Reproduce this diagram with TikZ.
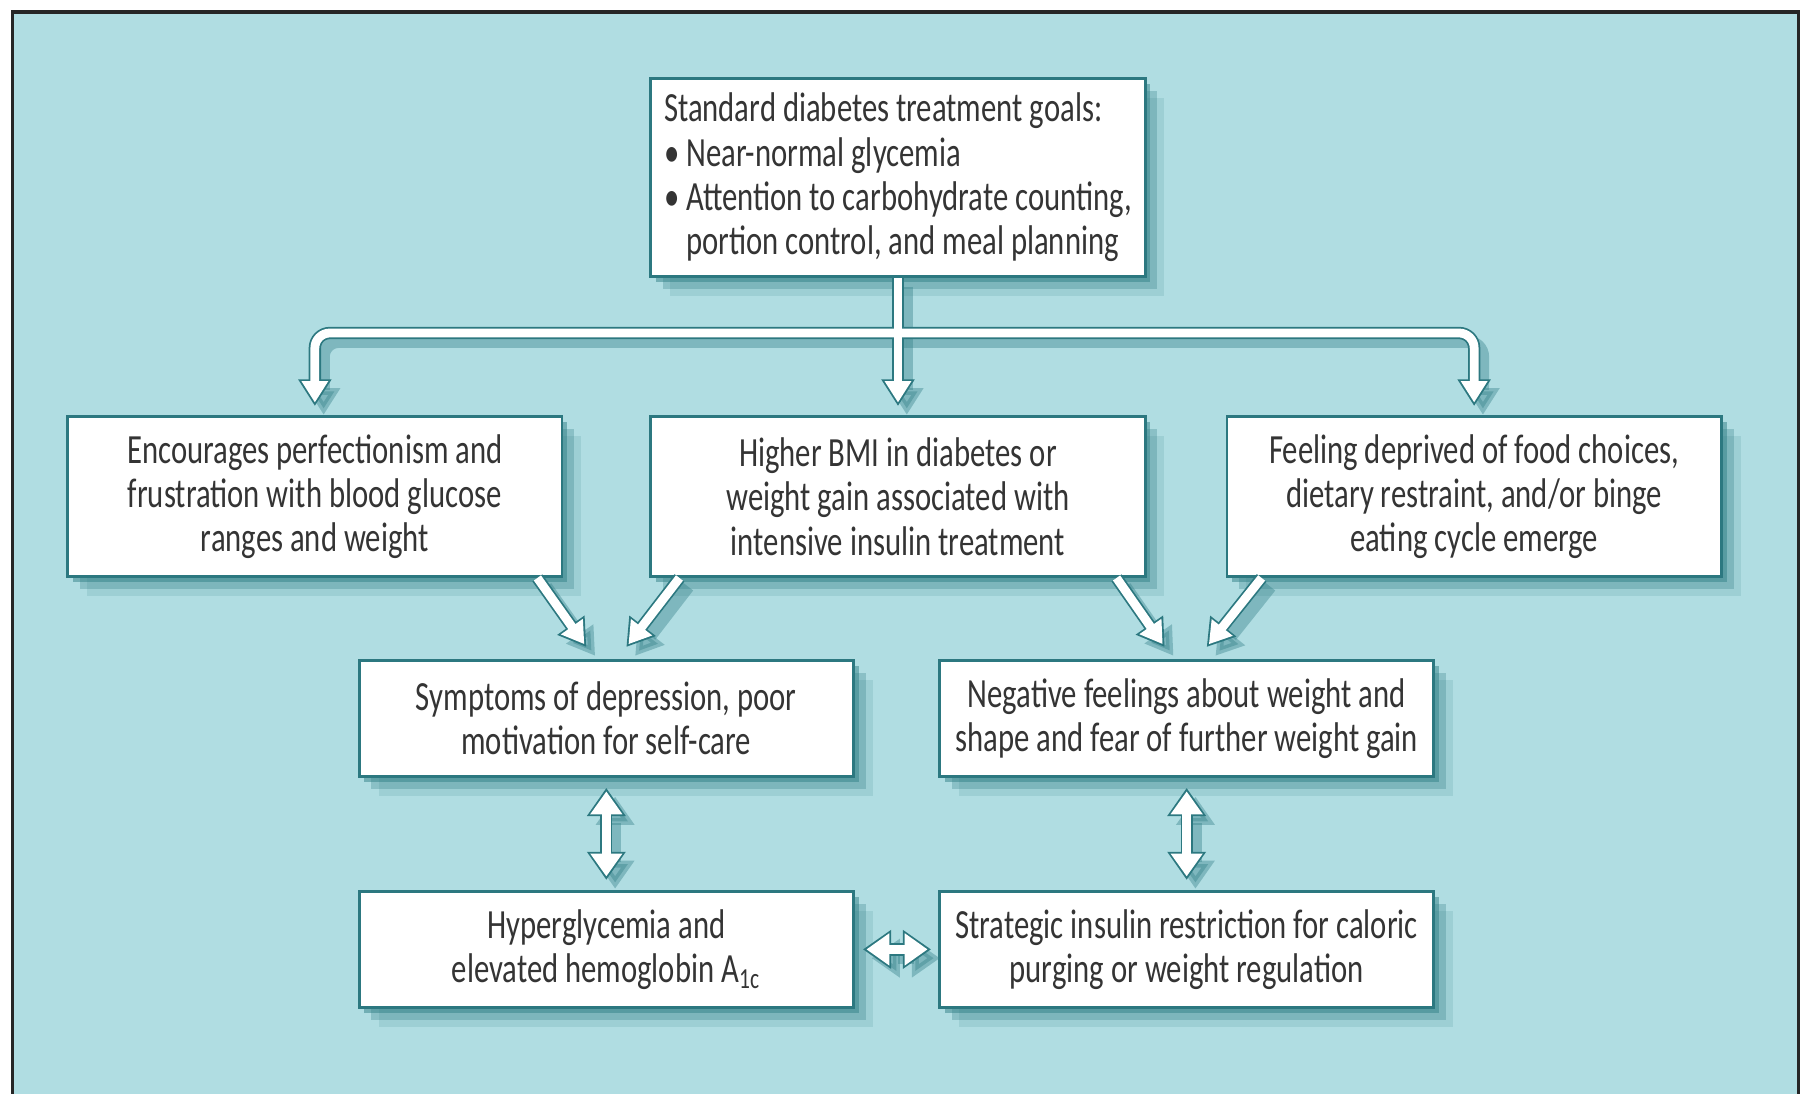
\documentclass[tikz,border=0pt]{standalone}
\usepackage{fontspec}
\setmainfont{Carlito}[FakeStretch=0.74]
\usetikzlibrary{arrows.meta,positioning,shadows}
\definecolor{bgteal}{RGB}{176,221,226}
\definecolor{edgeteal}{RGB}{44,120,128}
\definecolor{shadeteal}{RGB}{52,128,136}
\definecolor{txtgray}{RGB}{52,52,52}

\begin{document}
\begin{tikzpicture}[
  x=0.01cm, y=-0.01cm,
  box/.style={draw=edgeteal, line width=0.8pt, fill=white, text=txtgray,
              minimum width=4.94cm, minimum height=1.16cm,
              font=\fontsize{11.8}{12.6}\selectfont, align=center,
              drop shadow={shadow xshift=1.5pt, shadow yshift=-1.5pt, fill=shadeteal, opacity=.5},
              drop shadow={shadow xshift=3.5pt, shadow yshift=-3.5pt, fill=shadeteal, opacity=.3},
              drop shadow={shadow xshift=5.5pt, shadow yshift=-5.5pt, fill=shadeteal, opacity=.15}},
  wbox/.style={box, minimum height=1.6cm},
  arrout/.style={draw=edgeteal, line width=3.5pt, arrows={-Triangle[width=9pt,length=7.6pt]}},
  arrin/.style={draw=white, line width=2.5pt, arrows={-Triangle[width=7.2pt,length=6.1pt]}, shorten >=1pt},
  arrsh/.style={arrout, draw=shadeteal, opacity=.4, transform canvas={shift={(2.5pt,-2.5pt)}}},
  darrout/.style={draw=edgeteal, line width=3.5pt, arrows={Triangle[width=10.5pt,length=8pt]-Triangle[width=10.5pt,length=8pt]}},
  darrin/.style={draw=white, line width=2.5pt, arrows={Triangle[width=8.7pt,length=6.5pt]-Triangle[width=8.7pt,length=6.5pt]}, shorten >=1pt, shorten <=1pt},
  darrsh/.style={darrout, draw=shadeteal, opacity=.4, transform canvas={shift={(2.5pt,-2.5pt)}}},
]
  \useasboundingbox (0,0) rectangle (1808,1094);
  \fill[bgteal] (12.5,12) rectangle (1798.5,1120);
  \draw[black!85, line width=1pt] (12.5,12) rectangle (1798.5,1120);

  % boxes
  \node[box, minimum height=1.98cm, align=left] (goals) at (898,177.5)
    {Standard diabetes treatment goals:\\
     \textbullet\ Near-normal glycemia\\
     \textbullet\ Attention to carbohydrate counting,\\
     \hphantom{\textbullet\ }portion control, and meal planning};
  \node[wbox, below=1.37cm of goals] (bmi) {Higher BMI in diabetes or\\weight gain associated with\\intensive insulin treatment};
  \node[wbox, left=0.86cm of bmi] (perf) {Encourages perfectionism and\\frustration with blood glucose\\ranges and weight};
  \node[wbox, right=0.79cm of bmi] (depr) {Feeling deprived of food choices,\\dietary restraint, and/or binge\\eating cycle emerge};
  \node[box, below=0.81cm of bmi, xshift=-2.915cm] (sympt) {Symptoms of depression, poor\\motivation for self-care};
  \node[box, below=0.81cm of bmi, xshift=2.885cm] (negfeel) {Negative feelings about weight and\\shape and fear of further weight gain};
  \node[box, below=1.12cm of sympt] (hyper) {Hyperglycemia and\\elevated hemoglobin A\textsubscript{1c}};
  \node[box, below=1.12cm of negfeel] (restr) {Strategic insulin restriction for caloric\\purging or weight regulation};
  \coordinate[below=0.55cm of goals] (fork);

  % arrows: shadow, outline, then white inside
  \foreach \lay/\dlay in {arrsh/darrsh,arrout/darrout,arrin/darrin} {
    \draw[\lay, rounded corners=0.15cm] (fork) -| ([yshift=0.09cm]perf.north);
    \draw[\lay, rounded corners=0.15cm] (fork) -| ([yshift=0.09cm]depr.north);
    \draw[\lay] (goals.south) -- ([yshift=0.09cm]bmi.north);
    \draw[\lay] ([xshift=-0.26cm]perf.south east) -- ([xshift=-0.2cm,yshift=0.12cm]sympt.north);
    \draw[\lay] ([xshift=0.3cm]bmi.south west) -- ([xshift=0.2cm,yshift=0.12cm]sympt.north);
    \draw[\lay] ([xshift=-0.3cm]bmi.south east) -- ([xshift=-0.22cm,yshift=0.12cm]negfeel.north);
    \draw[\lay] ([xshift=0.36cm]depr.south west) -- ([xshift=0.2cm,yshift=0.12cm]negfeel.north);
    \draw[\dlay] ([yshift=-0.1cm]sympt.south) -- ([yshift=0.1cm]hyper.north);
    \draw[\dlay] ([yshift=-0.1cm]negfeel.south) -- ([yshift=0.1cm]restr.north);
    \draw[\dlay] ([xshift=0.08cm]hyper.east) -- ([xshift=-0.07cm]restr.west);
  }
\end{tikzpicture}
\end{document}
